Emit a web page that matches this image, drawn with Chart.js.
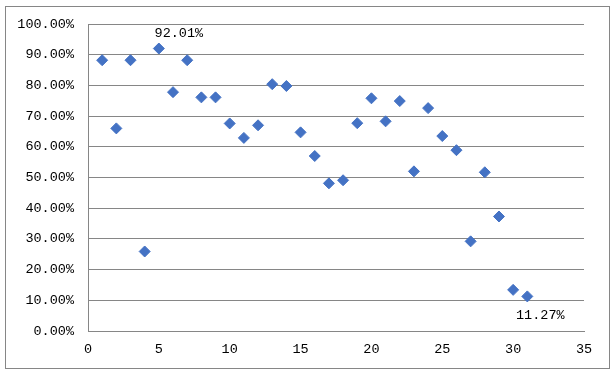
<!DOCTYPE html>
<html>
<head>
<meta charset="utf-8">
<script src="https://cdn.jsdelivr.net/npm/chart.js@4/dist/chart.umd.min.js"></script>
<style>
  html, body { margin: 0; padding: 0; background: #fff; }
  #wrap { position: relative; width: 615px; height: 372px; }
</style>
</head>
<body>
<div id="wrap"><canvas id="chart"></canvas></div>
<script>
// x = sample number, y = rate in percent
const xValues = [1, 2, 3, 4, 5, 6, 7, 8, 9, 10, 11, 12, 13, 14, 15, 16,
                 17, 18, 19, 20, 21, 22, 23, 24, 25, 26, 27, 28, 29, 30, 31];
const yValues = [88.2, 66.0, 88.2, 25.9, 92.01, 77.8, 88.2, 76.1, 76.1, 67.6, 62.9,
                 67.0, 80.4, 79.8, 64.7, 57.0, 48.1, 49.1, 67.7, 75.8, 68.3, 74.9,
                 52.0, 72.6, 63.5, 58.9, 29.2, 51.7, 37.3, 13.4, 11.27];
const xTicks = [0, 5, 10, 15, 20, 25, 30, 35];
const yTicks = [0, 10, 20, 30, 40, 50, 60, 70, 80, 90, 100];
const labelledPoints = [4, 30];   // indexes that carry a value label

const FONT = { family: "'Liberation Mono', monospace", size: 13.5 };
const GRID = "#868686";
const BLUE = "#4472C4";

// outer frame of the chart
const framePlugin = {
    id: "frame",
    beforeDraw(chart) {
        const ctx = chart.ctx;
        ctx.save();
        ctx.strokeStyle = GRID;
        ctx.lineWidth = 1;
        ctx.strokeRect(5.5, 6.5, 604, 362);
        ctx.restore();
    }
};

// value labels next to a few points
const pointLabels = {
    id: "pointLabels",
    afterDatasetsDraw(chart, args, opts) {
        const ctx = chart.ctx;
        const meta = chart.getDatasetMeta(0);
        ctx.save();
        ctx.font = FONT.size + "px " + FONT.family;
        ctx.fillStyle = "#000";
        ctx.textAlign = "center";
        ctx.textBaseline = "middle";
        labelledPoints.forEach((i, k) => {
            const p = meta.data[i];
            const off = opts.offsets[k];
            ctx.fillText(yValues[i].toFixed(2) + "%", p.x + off[0], p.y + off[1]);
        });
        ctx.restore();
    }
};

const points = xValues.map((x, i) => ({ x: x, y: yValues[i] }));

new Chart(document.getElementById("chart"), {
    type: "scatter",
    data: {
        datasets: [{
            data: points,
            pointStyle: "rectRot",
            pointRadius: 5.5,
            pointHoverRadius: 5.5,
            backgroundColor: BLUE,
            borderColor: BLUE,
            borderWidth: 1
        }]
    },
    options: {
        responsive: true,
        maintainAspectRatio: false,
        animation: false,
        layout: { padding: { left: 0, right: 31, top: 24, bottom: 0 } },
        plugins: {
            legend: { display: false },
            tooltip: { enabled: false },
            pointLabels: { offsets: [[20, -15], [13, 19]] }
        },
        scales: {
            x: {
                type: "linear",
                min: xTicks[0],
                max: xTicks[xTicks.length - 1],
                afterBuildTicks: (s) => { s.ticks = xTicks.map(v => ({ value: v })); },
                afterFit: (s) => { s.height = 41; },
                grid: { display: false, drawTicks: false },
                border: { display: true, color: GRID, width: 1 },
                ticks: { color: "#000", font: FONT, padding: 10, maxRotation: 0 }
            },
            y: {
                type: "linear",
                min: yTicks[0],
                max: yTicks[yTicks.length - 1],
                afterBuildTicks: (s) => { s.ticks = yTicks.map(v => ({ value: v })); },
                afterFit: (s) => { s.width = 88; },
                grid: { color: GRID, lineWidth: 1, drawTicks: false },
                border: { display: true, color: GRID, width: 1 },
                ticks: {
                    color: "#000",
                    font: FONT,
                    padding: 14,
                    callback: (v) => v.toFixed(2) + "%"
                }
            }
        }
    },
    plugins: [framePlugin, pointLabels]
});
</script>
</body>
</html>
